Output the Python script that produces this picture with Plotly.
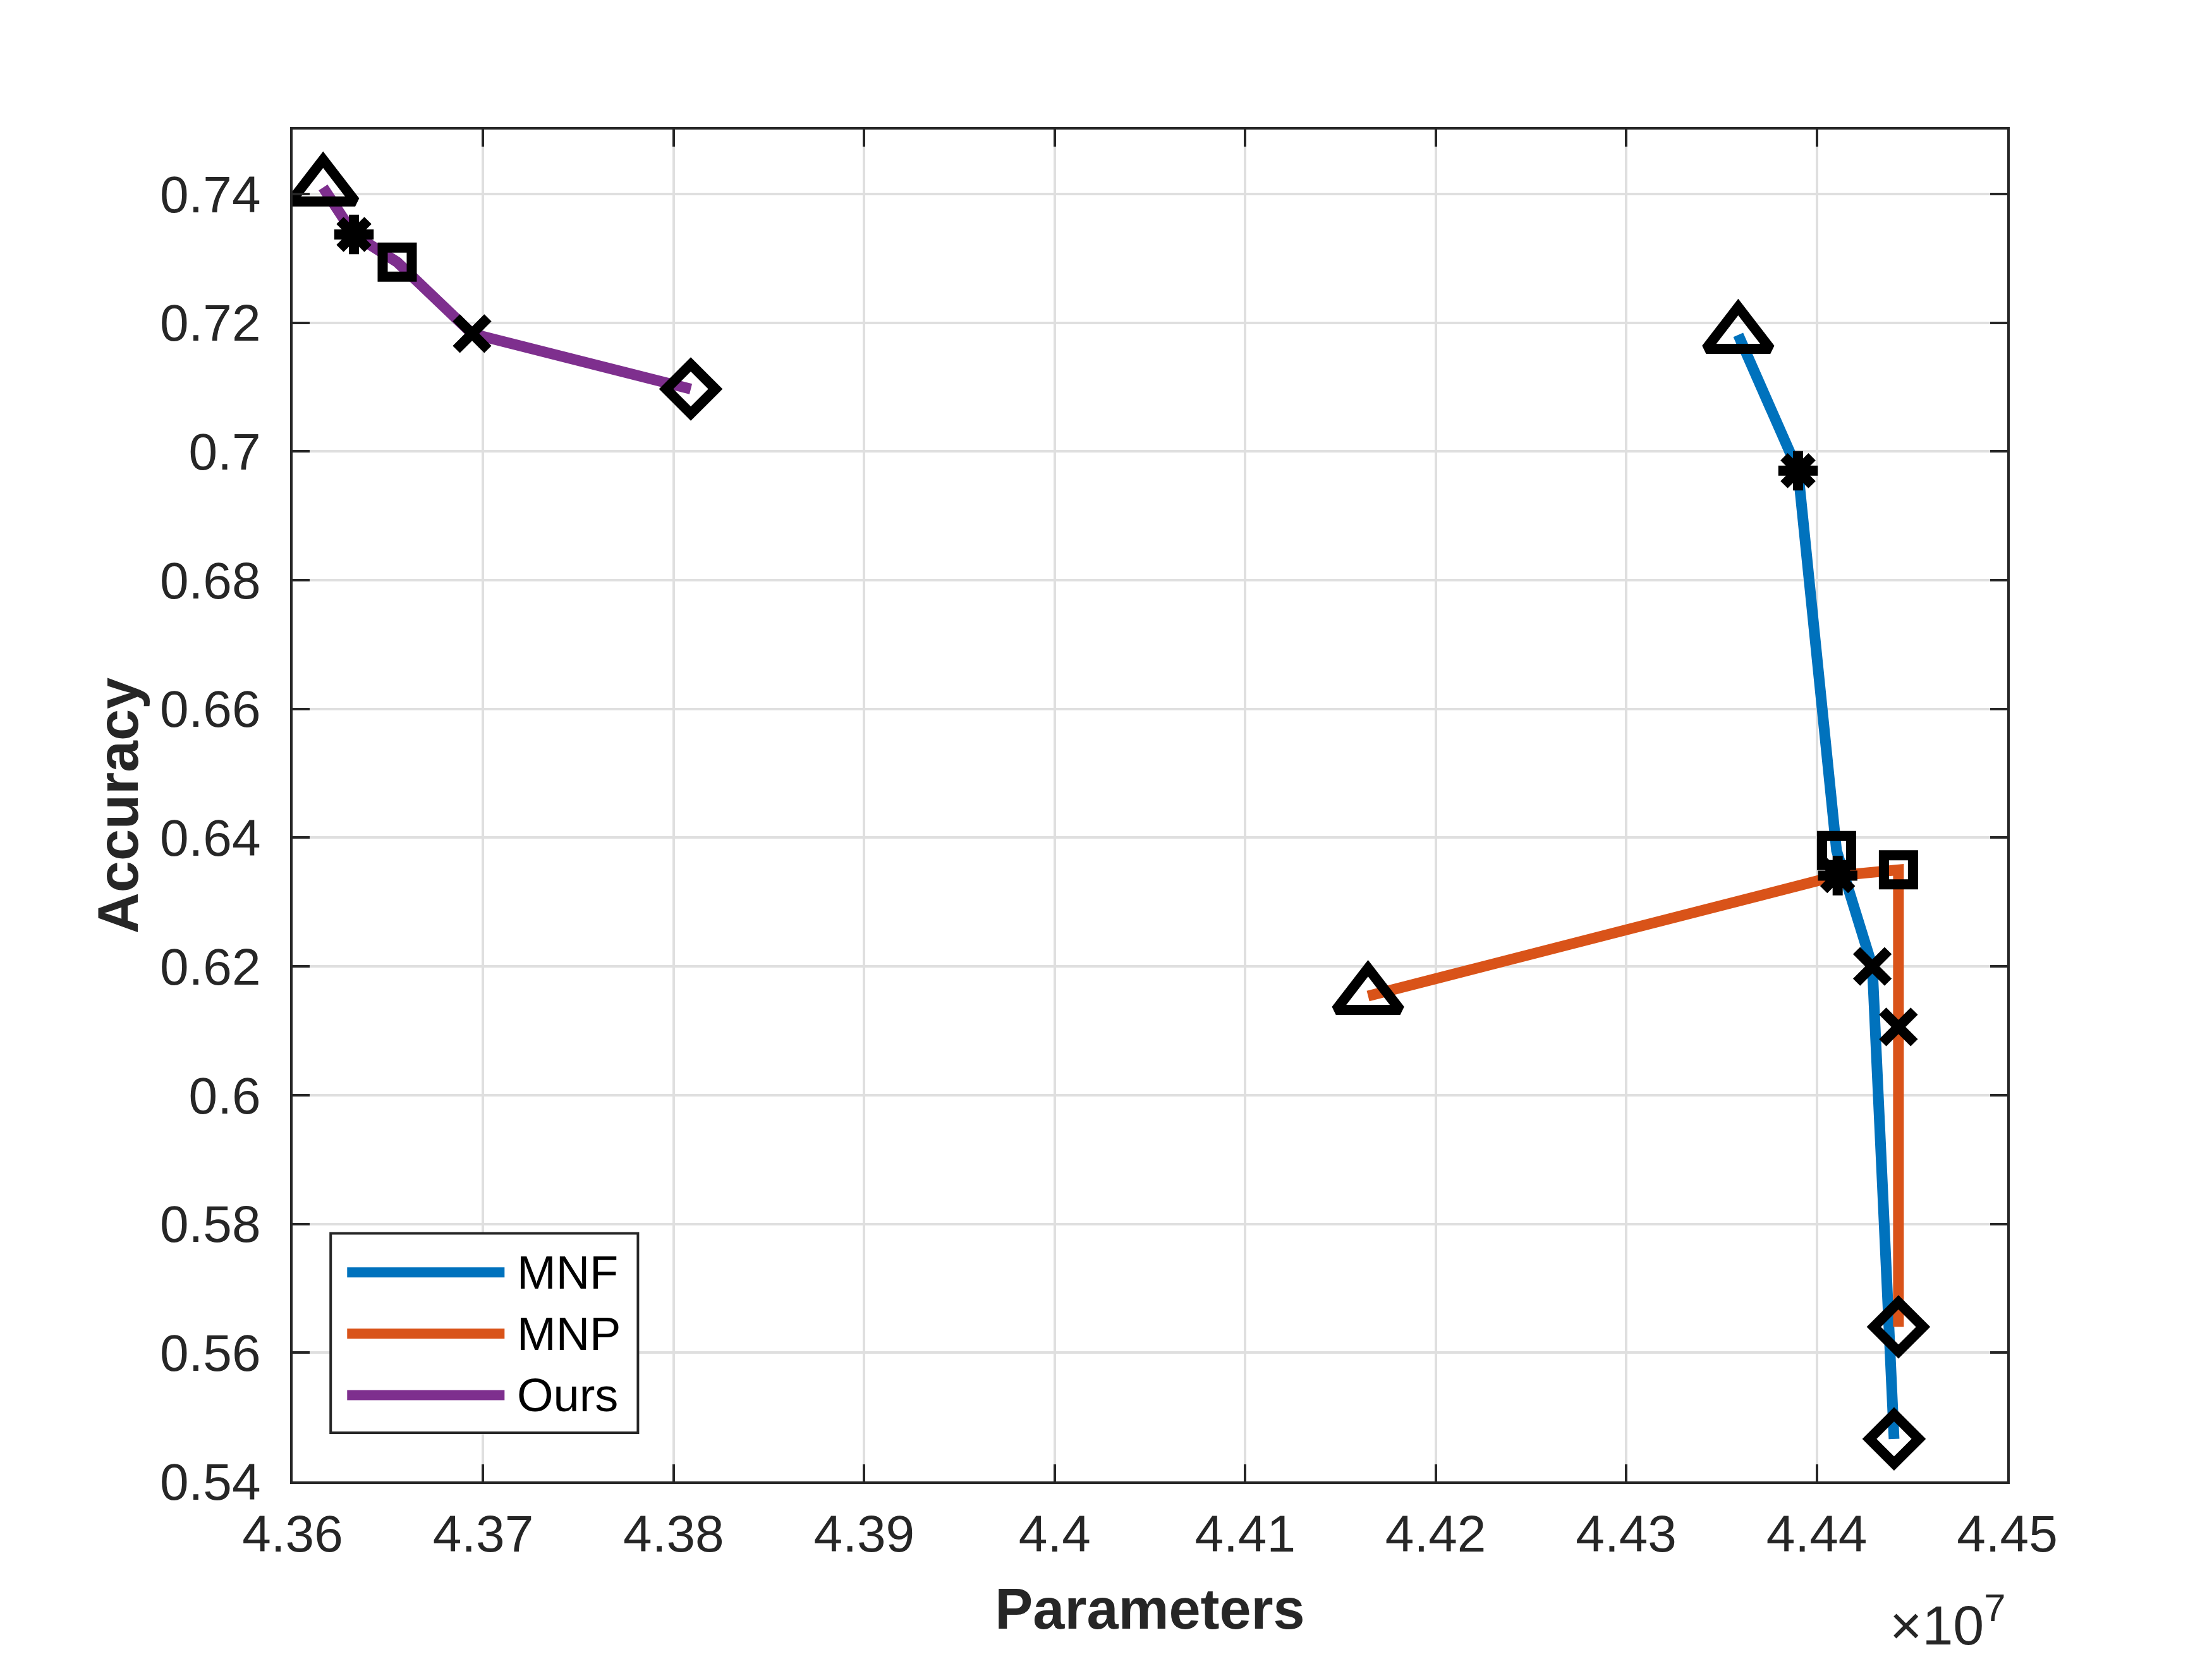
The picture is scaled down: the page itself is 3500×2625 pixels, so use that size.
import plotly.graph_objects as go

# Series data (parameters in raw counts, accuracy as fraction)
series_names = ["MNF", "MNP", "Ours"]
series_colors = ["#0072BD", "#D95319", "#7E2F8E"]

mnf_params = [4.43588e7, 4.43902e7, 4.44104e7, 4.44292e7, 4.44406e7]
mnf_acc = [0.7181, 0.6970, 0.6380, 0.6200, 0.5466]

mnp_params = [4.41645e7, 4.44110e7, 4.44429e7, 4.44429e7, 4.44429e7]
mnp_acc = [0.6154, 0.6341, 0.6350, 0.6106, 0.5640]

ours_params = [4.36160e7, 4.36322e7, 4.36549e7, 4.36942e7, 4.38090e7]
ours_acc = [0.7410, 0.7337, 0.7294, 0.7183, 0.7097]

# One marker type per pruning level, same for every method
point_symbols = ["triangle-up-open", "asterisk-open", "square-open", "x-thin-open", "diamond-open"]
point_sizes = [88, 52, 46, 50, 60]

# Axis ticks
x_tickvals = [4.36e7, 4.37e7, 4.38e7, 4.39e7, 4.40e7, 4.41e7, 4.42e7, 4.43e7, 4.44e7, 4.45e7]
x_ticktext = ["4.36", "4.37", "4.38", "4.39", "4.4", "4.41", "4.42", "4.43", "4.44", "4.45"]
y_tickvals = [0.54, 0.56, 0.58, 0.60, 0.62, 0.64, 0.66, 0.68, 0.70, 0.72, 0.74]
y_ticktext = ["0.54", "0.56", "0.58", "0.6", "0.62", "0.64", "0.66", "0.68", "0.7", "0.72", "0.74"]

all_params = [mnf_params, mnp_params, ours_params]
all_acc = [mnf_acc, mnp_acc, ours_acc]

FONT = "Liberation Sans, Arial, Helvetica, sans-serif"
AXIS_COLOR = "#262626"

fig = go.Figure()

# Lines first
for name, color, xs, ys in zip(series_names, series_colors, all_params, all_acc):
    fig.add_trace(go.Scatter(
        x=xs, y=ys, mode="lines", name=name,
        line=dict(color=color, width=17),
        showlegend=False,
    ))

# Black markers on top, one trace per level (same symbol for all methods)
for i, (symbol, size) in enumerate(zip(point_symbols, point_sizes)):
    fig.add_trace(go.Scatter(
        x=[p[i] for p in all_params],
        y=[a[i] for a in all_acc],
        mode="markers", name="level " + str(i + 1),
        marker=dict(symbol=symbol, size=size, color="black", opacity=1,
                    line=dict(color="black", width=16)),
        showlegend=False,
    ))

# Axes
fig.update_xaxes(
    range=[4.36e7, 4.45e7], tickvals=x_tickvals, ticktext=x_ticktext,
    ticks="inside", ticklen=27, tickwidth=4, tickcolor=AXIS_COLOR,
    showline=True, linecolor=AXIS_COLOR, linewidth=4, mirror="allticks",
    showgrid=True, gridcolor="#dfdfdf", gridwidth=4, zeroline=False,
    tickfont=dict(family=FONT, size=82, color=AXIS_COLOR),
    ticklabelstandoff=9,
    title=dict(text="Parameters", standoff=44,
               font=dict(family=FONT, size=90, color=AXIS_COLOR, weight="bold")),
)
fig.update_yaxes(
    range=[0.54, 0.75], tickvals=y_tickvals, ticktext=y_ticktext,
    ticks="inside", ticklen=27, tickwidth=4, tickcolor=AXIS_COLOR,
    showline=True, linecolor=AXIS_COLOR, linewidth=4, mirror="allticks",
    showgrid=True, gridcolor="#dfdfdf", gridwidth=4, zeroline=False,
    tickfont=dict(family=FONT, size=82, color=AXIS_COLOR),
    ticklabelstandoff=30,
    title=dict(text="Accuracy", standoff=5,
               font=dict(family=FONT, size=90, color=AXIS_COLOR, weight="bold")),
)

# Exponent label like MATLAB
fig.add_annotation(
    text="\u00d710<sup>7</sup>", xref="paper", yref="paper",
    x=1.0, y=-0.076, xanchor="right", yanchor="top", showarrow=False,
    font=dict(family=FONT, size=88, color=AXIS_COLOR),
)

# Legend box drawn by hand so the line samples are long, as in MATLAB
leg_x0, leg_x1, leg_y0, leg_y1 = 0.0222, 0.2014, 0.0360, 0.1835
fig.add_shape(type="rect", xref="paper", yref="paper",
              x0=leg_x0, x1=leg_x1, y0=leg_y0, y1=leg_y1,
              line=dict(color=AXIS_COLOR, width=4), fillcolor="white", layer="above")
row_y = [0.1546, 0.1093, 0.0638]
for name, color, yy in zip(series_names, series_colors, row_y):
    fig.add_shape(type="line", xref="paper", yref="paper",
                  x0=0.0318, x1=0.1236, y0=yy, y1=yy,
                  line=dict(color=color, width=16), layer="above")
    fig.add_annotation(text=name, xref="paper", yref="paper", x=0.1300, y=yy,
                       xanchor="left", yanchor="middle", showarrow=False,
                       font=dict(family=FONT, size=74, color="black"))

fig.update_layout(
    width=3500, height=2625,
    margin=dict(l=455, r=332, t=197, b=289),
    plot_bgcolor="white", paper_bgcolor="white",
    font=dict(family=FONT, color=AXIS_COLOR),
    showlegend=False,
)

fig.write_html("out.html")
